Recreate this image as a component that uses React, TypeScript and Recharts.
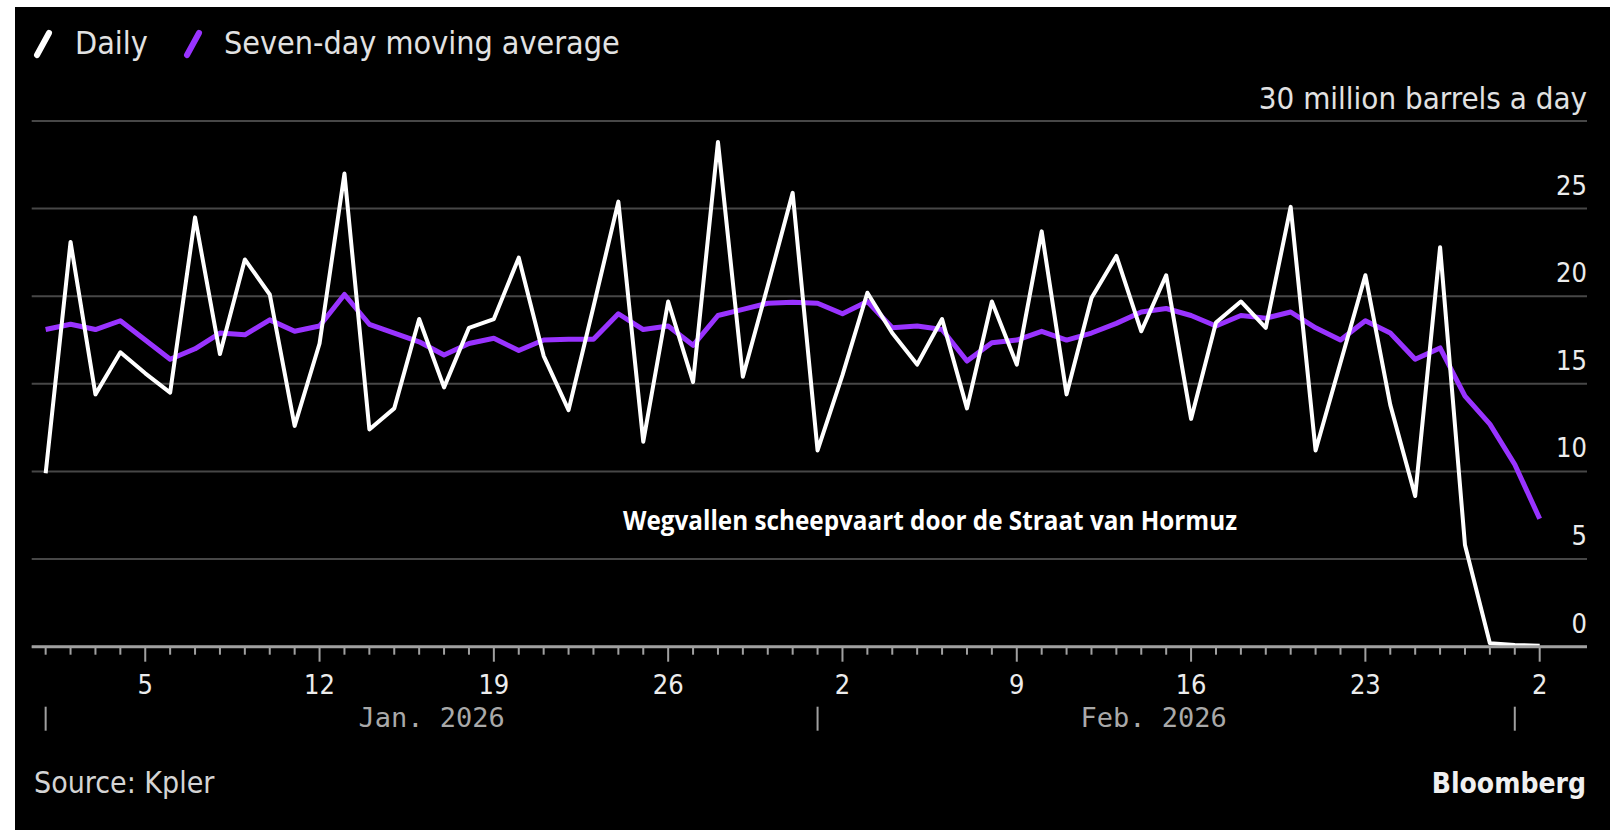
import { CartesianGrid, Line, LineChart, XAxis, YAxis } from "recharts";

// day of month for every point, Jan 1 2026 .. Mar 2 2026
const days = [
  1, 2, 3, 4, 5, 6, 7, 8, 9, 10, 11, 12, 13, 14, 15, 16, 17, 18, 19, 20, 21, 22, 23, 24, 25, 26, 27, 28, 29, 30, 31,
  1, 2, 3, 4, 5, 6, 7, 8, 9, 10, 11, 12, 13, 14, 15, 16, 17, 18, 19, 20, 21, 22, 23, 24, 25, 26, 27, 28,
  1, 2
];

// million barrels a day
const daily = [
  9.9, 23.1, 14.4, 16.8, 15.6, 14.5, 24.5, 16.7, 22.1, 20.1, 12.6, 17.3, 27.0, 12.4, 13.6, 18.7,
  14.8, 18.2, 18.7, 22.2, 16.6, 13.5, 19.4, 25.4, 11.7, 19.7, 15.1, 28.8, 15.4, 20.6, 25.9,
  11.2, 15.5, 20.2, 17.9, 16.1, 18.7, 13.6, 19.7, 16.1, 23.7, 14.4, 19.9, 22.3, 18.0, 21.2,
  13.0, 18.5, 19.7, 18.2, 25.1, 11.2, 16.2, 21.2, 13.8, 8.6, 22.8, 5.8, 0.2,
  0.1, 0.05
];

const movingAvg = [
  18.1, 18.4, 18.1, 18.6, 17.5, 16.4, 17.0, 17.9, 17.8, 18.65, 18.0, 18.3, 20.1, 18.4, 17.9, 17.4,
  16.65, 17.3, 17.6, 16.9, 17.5, 17.55, 17.55, 19.0, 18.1, 18.3, 17.2, 18.9, 19.25, 19.6, 19.65,
  19.6, 19.0, 19.7, 18.2, 18.3, 18.1, 16.3, 17.35, 17.5, 18.0, 17.5, 17.9, 18.45, 19.1, 19.3,
  18.9, 18.3, 18.9, 18.75, 19.1, 18.2, 17.5, 18.6, 17.9, 16.4, 17.05, 14.3, 12.7,
  10.4, 7.3
];

const labeledIdx = [4, 11, 18, 25, 32, 39, 46, 53, 60];
const monthNames = ["Jan. 2026", "Feb. 2026"];
const monthStartIdx = [0, 31, 59];
const monthMidIdx = [15.5, 44.5];
const yTicks = [0, 5, 10, 15, 20, 25, 30];

const data = days.map((d, i) => ({ i, day: d, daily: daily[i], avg: movingAvg[i] }));
const xTicks = [...data.map((r) => r.i), ...monthMidIdx];

const SANS = "'DejaVu Sans Condensed', 'DejaVu Sans', sans-serif";
const MONO = "'DejaVu Sans Mono', monospace";

function XTick(props: any) {
  const { x, y, payload } = props;
  const v = payload.value;
  const mi = monthMidIdx.indexOf(v);
  if (mi >= 0) {
    return (
      <text x={x} y={y + 80} textAnchor="middle" fill="#a9a9a9" fontFamily={MONO} fontSize={27}>
        {monthNames[mi]}
      </text>
    );
  }
  const major = labeledIdx.includes(v);
  return (
    <g>
      <line x1={x} x2={x} y1={y} y2={y + (major ? 15 : 8)} stroke="#a0a0a0" strokeWidth={2} />
      {major && (
        <text x={x} y={y + 47} textAnchor="middle" fill="#ececec" fontFamily={SANS} fontStretch="condensed" fontSize={27}>
          {days[v]}
        </text>
      )}
      {monthStartIdx.includes(v) && (
        <line x1={x} x2={x} y1={y + 60} y2={y + 84} stroke="#a0a0a0" strokeWidth={2} />
      )}
    </g>
  );
}

function YTick(props: any) {
  const { x, y, payload } = props;
  const v = payload.value;
  if (v === 30) {
    return (
      <text x={x} y={y - 12} textAnchor="end" fill="#e2e2e2" fontFamily={SANS} fontStretch="condensed" fontSize={31}>
        30 million barrels a day
      </text>
    );
  }
  return (
    <text x={x} y={y - 14} textAnchor="end" fill="#ececec" fontFamily={SANS} fontStretch="condensed" fontSize={27}>
      {v}
    </text>
  );
}

export default function App() {
  return (
    <div style={{ position: "absolute", left: 0, top: 0, width: 1610, height: 830, background: "#fff", overflow: "hidden" }}>
      <div style={{ position: "absolute", left: 15, top: 7, width: 1595, height: 823, background: "#000" }} />
      <div style={{ position: "absolute", left: 0, top: 0 }}>
        <LineChart width={1610} height={830} data={data} margin={{ top: 121, right: 22, left: 31.7, bottom: 83.3 }}>
          <CartesianGrid horizontal vertical={false} stroke="#474747" strokeWidth={2} />
          <XAxis
            type="number"
            dataKey="i"
            domain={[-0.56, 61.9]}
            ticks={xTicks}
            interval={0}
            tick={<XTick />}
            tickLine={false}
            tickSize={0}
            tickMargin={0}
            height={100}
            axisLine={{ stroke: "#a0a0a0", strokeWidth: 3 }}
            allowDataOverflow
          />
          <YAxis
            orientation="right"
            width={1}
            domain={[0, 30]}
            ticks={yTicks}
            interval={0}
            tick={<YTick />}
            axisLine={false}
            tickLine={false}
            tickSize={0}
            tickMargin={0}
          />
          <Line
            type="linear"
            dataKey="avg"
            stroke="#9933ff"
            strokeWidth={5}
            strokeLinejoin="round"
            dot={false}
            isAnimationActive={false}
          />
          <Line
            type="linear"
            dataKey="daily"
            stroke="#ffffff"
            strokeWidth={4}
            strokeLinejoin="round"
            dot={false}
            isAnimationActive={false}
          />
        </LineChart>
      </div>
      <svg width={1610} height={830} style={{ position: "absolute", left: 0, top: 0, pointerEvents: "none" }}>
        <line x1={37} y1={55} x2={49} y2={33} stroke="#ffffff" strokeWidth={6} strokeLinecap="round" />
        <text x={75} y={54} fill="#e2e2e2" fontFamily={SANS} fontStretch="condensed" fontSize={32}>
          Daily
        </text>
        <line x1={187} y1={55} x2={199} y2={33} stroke="#9933ff" strokeWidth={6} strokeLinecap="round" />
        <text x={224} y={54} fill="#e2e2e2" fontFamily={SANS} fontStretch="condensed" fontSize={32}>
          Seven-day moving average
        </text>
        <text
          x={930}
          y={530}
          textAnchor="middle"
          fill="#ffffff"
          fontFamily="'Open Sans', sans-serif"
          fontWeight={700}
          fontSize={26}
          textLength={614}
          lengthAdjust="spacingAndGlyphs"
        >
          Wegvallen scheepvaart door de Straat van Hormuz
        </text>
        <text x={34} y={793} fill="#d4d4d4" fontFamily={SANS} fontStretch="condensed" fontSize={30}>
          Source: Kpler
        </text>
        <text x={1586} y={793} textAnchor="end" fill="#f0f0f0" fontFamily={SANS} fontStretch="condensed" fontWeight={700} fontSize={28}>
          Bloomberg
        </text>
      </svg>
    </div>
  );
}
